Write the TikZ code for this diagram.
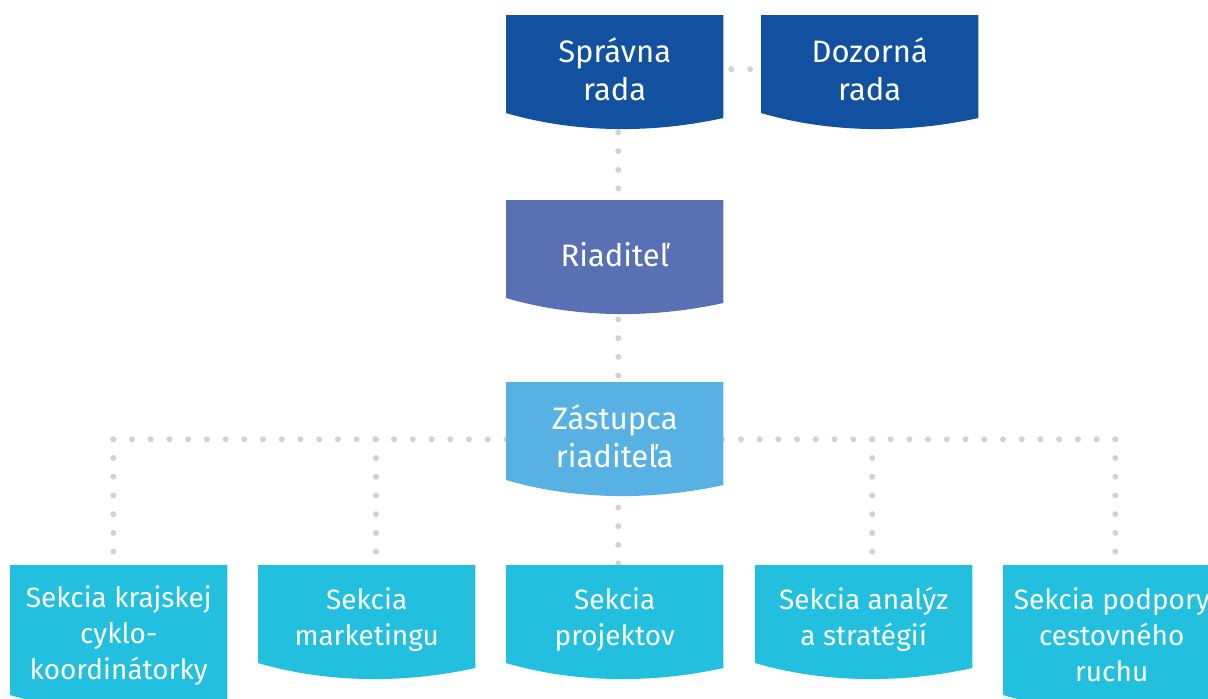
\documentclass[tikz,border=0pt]{standalone}
\usepackage{fontspec}
\setmainfont{Fira Sans}
\usetikzlibrary{calc}
\definecolor{cDark}{HTML}{1250A0}
\definecolor{cDir}{HTML}{5A70B5}
\definecolor{cDep}{HTML}{57B2E3}
\definecolor{cSec}{HTML}{22C0DE}
\definecolor{cDots}{HTML}{D2D2D2}
\pgfdeclarelayer{dots}
\pgfdeclarelayer{fills}
\pgfsetlayers{dots,fills,main}
\newcommand\wavefill[3]{%
  \fill[#2] (#1.north west) -- (#1.north east) -- ($(#1.north east)+(0,#3+5)$)
    .. controls ($(#1.north east)+(-86.8,#3+24)$) and ($(#1.north west)+(54.25,#3+16)$)
    .. ($(#1.north west)+(0,#3)$) -- cycle;}
\begin{document}
\begin{tikzpicture}[x=1pt,y=-1pt,
  box/.style={minimum width=217pt, minimum height=108pt, inner sep=0pt,
    anchor=north west, align=center, text=white},
  topfont/.style={font=\fontsize{31pt}{38pt}\selectfont},
  botfont/.style={font=\fontsize{28pt}{36pt}\selectfont},
  dotline/.style={draw=cDots, line width=6pt, line cap=round,
    dash pattern=on 0pt off 18.72pt}]
\useasboundingbox (0,0) rectangle (1208,699);
% nodes
\node[box,topfont] (sr) at (506,15) {Správna\\rada};
\node[box,topfont] (dr) at (761,15) {Dozorná\\rada};
\node[box,topfont] (ri) at (506,200) {Riaditeľ};
\node[box,topfont] (zr) at (506,382) {Zástupca\\riaditeľa};
\node[box,botfont,minimum height=140pt] (s1) at (10,565) {Sekcia krajskej\\cyklo-\\koordinátorky};
\node[box,botfont] (s2) at (258,565) {Sekcia\\marketingu};
\node[box,botfont] (s3) at (506,565) {Sekcia\\projektov};
\node[box,botfont] (s4) at (755,565) {Sekcia analýz\\a stratégií};
\node[box,botfont,minimum height=140pt] (s5) at (1003,565) {Sekcia podpory\\cestovného\\ruchu};
% junction coordinates
\coordinate (c1) at (113.3,439.3);
\coordinate (c2) at (376,439.3);
\coordinate (c4) at (872.3,439.3);
\coordinate (c5) at (1115.3,439.3);
\coordinate (vx) at (618.3,0);
% fills
\begin{pgfonlayer}{fills}
\wavefill{sr}{cDark}{98}
\wavefill{dr}{cDark}{98}
\wavefill{ri}{cDir}{98}
\wavefill{zr}{cDep}{98}
\wavefill{s1}{cSec}{130}
\wavefill{s2}{cSec}{98}
\wavefill{s3}{cSec}{98}
\wavefill{s4}{cSec}{98}
\wavefill{s5}{cSec}{130}
\end{pgfonlayer}
% connectors
\begin{pgfonlayer}{dots}
\draw[dotline, dash phase=10.72pt] (sr.east) -- (dr.west);
\draw[dotline, dash phase=9.72pt] (sr.south -| vx) -- (ri.north -| vx);
\draw[dotline, dash phase=7.72pt] (ri.south -| vx) -- (zr.north -| vx);
\draw[dotline, dash phase=1.72pt] (zr.south -| vx) -- (s3.north -| vx);
\draw[dotline] (c1) -- (c1 -| vx);
\draw[dotline] (c5) -- (c5 -| vx);
\draw[dotline] (c1) -- (c1 |- s1.north);
\draw[dotline] (c2) -- (c2 |- s2.north);
\draw[dotline] (c4) -- (c4 |- s4.north);
\draw[dotline] (c5) -- (c5 |- s5.north);
\end{pgfonlayer}
\end{tikzpicture}
\end{document}
